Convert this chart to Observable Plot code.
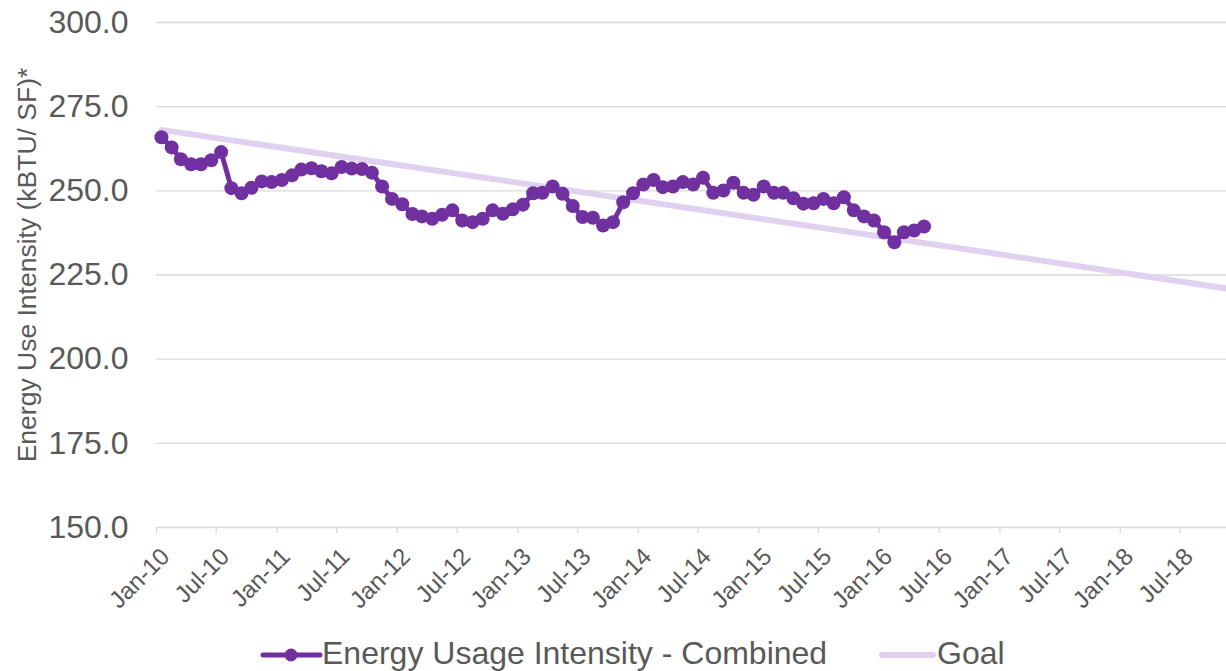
<!DOCTYPE html>
<html>
<head>
<meta charset="utf-8">
<script src="https://cdn.jsdelivr.net/npm/d3@7"></script>
<script src="https://cdn.jsdelivr.net/npm/@observablehq/plot@0.6"></script>
<style>
  html, body { margin: 0; padding: 0; background: #fff; }
  #wrap { position: relative; width: 1226px; height: 671px; overflow: hidden; font-family: "Liberation Sans", Arial, sans-serif; }
  #legend { display: block; }
</style>
</head>
<body>
<div id="wrap">
  <div id="chart"></div>
  <svg id="legend" width="1226" height="43" font-family="Liberation Sans, Arial, sans-serif">
    <line x1="263" x2="320" y1="27" y2="27" stroke="#7030A0" stroke-width="5" stroke-linecap="round"></line>
    <circle cx="291" cy="27" r="6.5" fill="#7030A0"></circle>
    <text x="322" y="36" font-size="32" fill="#595959">Energy Usage Intensity - Combined</text>
    <line x1="882" x2="933" y1="27" y2="27" stroke="#E1D1F1" stroke-width="6" stroke-linecap="round"></line>
    <text x="937" y="36" font-size="32" fill="#595959">Goal</text>
  </svg>
</div>
<script>
// ---- data ----
const startMonth = "2010-01";
const seriesName = "Energy Usage Intensity - Combined";
const goalName = "Goal";
const euiValues = [
  265.9, 262.9, 259.4, 257.9, 257.9, 259.1, 261.5, 250.8, 249.3, 250.9, 252.8, 252.6,
  253.2, 254.6, 256.3, 256.7, 255.8, 255.2, 257.1, 256.6, 256.5, 255.4, 251.3, 247.6,
  246.0, 243.1, 242.4, 241.7, 242.9, 244.2, 241.2, 240.7, 241.7, 244.2, 243.2, 244.5,
  245.9, 249.3, 249.4, 251.3, 249.1, 245.5, 242.2, 242.0, 239.7, 240.7, 246.6, 249.3,
  251.9, 253.2, 251.1, 251.3, 252.6, 251.9, 253.9, 249.4, 250.1, 252.4, 249.4, 248.8,
  251.3, 249.4, 249.4, 247.8, 246.2, 246.3, 247.6, 246.3, 248.1, 244.2, 242.4, 241.2,
  237.7, 234.7, 237.7, 238.2, 239.4
];
const goalDates = ["2010-01-16", "2016-12-16", "2017-01-16", "2018-12-16"];
const goalValues = [268.1, 231.4, 230.9, 220.6];
const yTicks = [150, 175, 200, 225, 250, 275, 300];
const xDomain = ["2010-01-01", "2018-11-19"];
const yTitle = "Energy Use Intensity (kBTU/ SF)*";

// ---- build ----
const parseDay = d3.utcParse("%Y-%m-%d");
const start = d3.utcParse("%Y-%m")(startMonth);
const eui = euiValues.map((v, i) => ({ date: d3.utcDay.offset(d3.utcMonth.offset(start, i), 15), value: v }));
const goal = goalDates.map((d, i) => ({ date: parseDay(d), value: goalValues[i] }));
const dom = xDomain.map(parseDay);
const xTicks = d3.utcMonth.every(6).range(dom[0], dom[1]);
const fmt = d3.utcFormat("%b-%y");

const chart = Plot.plot({
  width: 1226,
  height: 628,
  marginLeft: 156,
  marginRight: 0,
  marginTop: 22,
  marginBottom: 101,
  style: { fontFamily: "Liberation Sans, Arial, sans-serif", color: "#595959", background: "#fff", overflow: "visible" },
  x: { type: "utc", domain: dom, label: null },
  y: { domain: [150, 300], label: null },
  marks: [
    Plot.ruleY(yTicks.filter(t => t > 150), { stroke: "#D9D9D9", strokeWidth: 1.3 }),
    Plot.axisY({ ticks: yTicks, tickSize: 0, tickPadding: 28, tickFormat: d => d.toFixed(1), fontSize: 32, fill: "#595959", label: null }),
    Plot.axisX({ ticks: xTicks, tickSize: 6, stroke: "#D9D9D9", strokeWidth: 1.3, tickFormat: null, text: null, label: null }),
    Plot.axisX({ ticks: xTicks, tickFormat: fmt, tickRotate: -45, tickSize: 0, tickPadding: 0, dx: 9, dy: 25, fill: "#595959", fontSize: 24, label: null }),
    Plot.ruleY([150], { stroke: "#D9D9D9", strokeWidth: 1.5 }),
    Plot.line(goal, { x: "date", y: "value", stroke: "#E1D1F1", strokeWidth: 6, clip: true }),
    Plot.line(eui, { x: "date", y: "value", stroke: "#7030A0", strokeWidth: 5 }),
    Plot.dot(eui, { x: "date", y: "value", r: 7, fill: "#7030A0" }),
    Plot.text([yTitle], { frameAnchor: "left", textAnchor: "middle", rotate: -90, dx: -129, dy: -10, fontSize: 26.5, fill: "#595959" })
  ]
});
document.getElementById("chart").appendChild(chart);
</script>
</body>
</html>
